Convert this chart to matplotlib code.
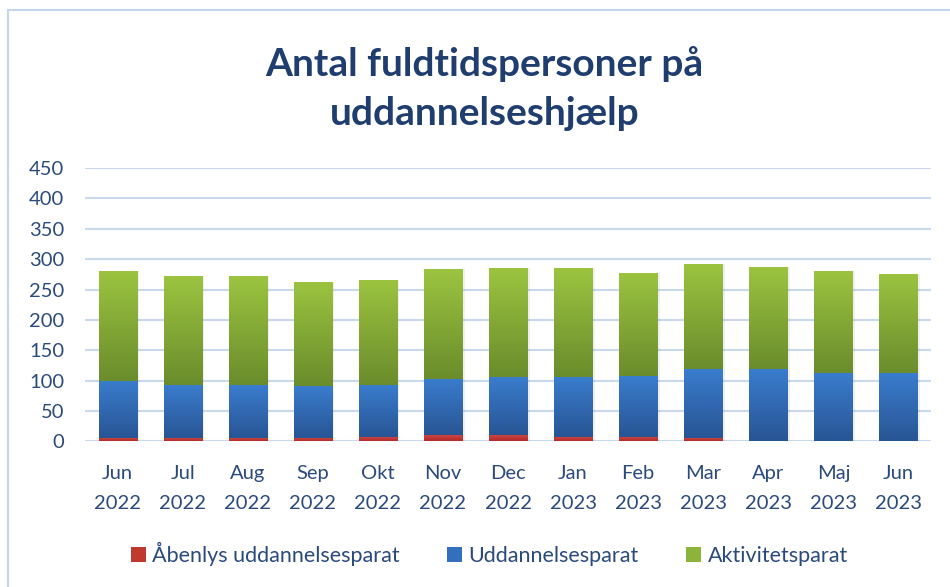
import matplotlib
matplotlib.use("Agg")
import matplotlib.pyplot as plt
import numpy as np
from matplotlib.colors import LinearSegmentedColormap
from matplotlib.patches import Rectangle, Patch

months = ["Jun\n2022", "Jul\n2022", "Aug\n2022", "Sep\n2022", "Okt\n2022", "Nov\n2022",
          "Dec\n2022", "Jan\n2023", "Feb\n2023", "Mar\n2023", "Apr\n2023", "Maj\n2023", "Jun\n2023"]
aabenlys = [5, 5, 5, 5, 7, 10, 10, 7, 7, 5, 0, 0, 0]
uddannelses = [94, 88, 88, 86, 86, 93, 96, 99, 101, 114, 119, 112, 112]
aktivitets = [181, 179, 179, 172, 173, 180, 179, 179, 170, 173, 168, 169, 163]
series_names = ["Åbenlys uddannelsesparat", "Uddannelsesparat", "Aktivitetsparat"]
yticks = [0, 50, 100, 150, 200, 250, 300, 350, 400, 450]

plt.rcParams['font.family'] = ['Lato', 'DejaVu Sans']

fig = plt.figure(figsize=(9.5, 5.87), dpi=100)
ax = fig.add_axes([0.0895, 0.2479, 0.8905, 0.4659])

text_col = "#2B4A7C"
grid_col = "#C9D8EC"

x = np.arange(len(months))
width = 0.585
grads = [("#D24A45", "#B02A2A"), ("#3A7DCE", "#285594"), ("#9CC440", "#6A8C2C")]
solid = ["#C0392F", "#3270BD", "#8DB43A"]
bottom = np.zeros(len(months))
for vals, (ctop, cbot), sc in zip([aabenlys, uddannelses, aktivitets], grads, solid):
    vals = np.array(vals, dtype=float)
    bars = ax.bar(x, vals, width, bottom=bottom, color="none", zorder=3, linewidth=0)
    cmap = LinearSegmentedColormap.from_list("g", [cbot, ctop])
    grad = np.linspace(0, 1, 256).reshape(-1, 1)
    for b in bars:
        if b.get_height() <= 0:
            continue
        x0, y0 = b.get_x(), b.get_y()
        w, h = b.get_width(), b.get_height()
        sh = Rectangle((x0 + 0.04, y0), w, h, facecolor="#000000", alpha=0.06,
                       linewidth=0, zorder=2)
        ax.add_patch(sh)
        im = ax.imshow(grad, extent=(x0, x0 + w, y0, y0 + h), origin="lower",
                       cmap=cmap, aspect="auto", zorder=3, interpolation="bicubic")
        im.set_clip_path(b)
    bottom += vals

ax.set_xlim(-0.5, len(months) - 0.5)
ax.set_ylim(0, 450)
ax.set_yticks(yticks)
ax.set_xticks(x)
ax.set_xticklabels(months, fontsize=14.5, color=text_col, linespacing=1.9)
ax.tick_params(axis="y", labelsize=14.5, colors=text_col, length=0, pad=15)
ax.tick_params(axis="x", length=0, pad=17, colors=text_col)
ax.grid(axis="y", color=grid_col, linewidth=1.5, zorder=0)
ax.set_axisbelow(True)
for s in ax.spines.values():
    s.set_visible(False)

fig.text(0.51, 0.849, "Antal fuldtidspersoner på\nuddannelseshjælp", ha="center", va="center",
         fontsize=28, fontweight="bold", color="#1F3D6E", linespacing=1.5)

handles = [Patch(facecolor=c, edgecolor="none") for c in solid]
leg = fig.legend(handles, series_names, loc="center", bbox_to_anchor=(0.515, 0.056), ncol=3,
                 frameon=False, fontsize=15.5, handlelength=0.7, handleheight=0.7,
                 handletextpad=0.3, columnspacing=2.2)
for t in leg.get_texts():
    t.set_color(text_col)

border = Rectangle((8 / 950, -0.1), 1.2, 1 - 10 / 587 + 0.1, transform=fig.transFigure,
                   fill=False, edgecolor="#C5D6EC", linewidth=1.5)
fig.patches.append(border)

fig.savefig("out.png", dpi=100)
